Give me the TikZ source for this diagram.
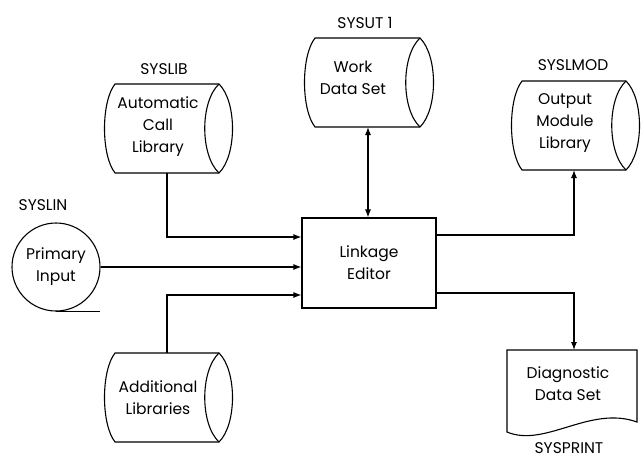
\documentclass[tikz,border=0pt]{standalone}
\usepackage{fontspec}
\setmainfont{Poppins}
\usetikzlibrary{arrows.meta}
\newcommand{\dcyl}[4]{%
  \draw ({#1},{#3}) -- ({#2},{#3})
    .. controls ({#2+18},{#3+0.2*(#4-#3)}) and ({#2+18},{#4-0.2*(#4-#3)}) .. ({#2},{#4})
    -- ({#1},{#4})
    .. controls ({#1-14},{#4-0.2*(#4-#3)}) and ({#1-14},{#3+0.2*(#4-#3)}) .. cycle;
  \draw ({#2},{#3}) .. controls ({#2-19},{#3+0.2*(#4-#3)}) and ({#2-19},{#4-0.2*(#4-#3)}) .. ({#2},{#4});
}
\begin{document}
\begin{tikzpicture}[x=1pt,y=-1pt, line width=1.1pt,
  lbl/.style={font=\fontsize{15.5}{22}\selectfont, align=center, inner sep=0pt},
  ltip/.tip={Latex[length=8pt,width=6pt]},
  arr/.style={-ltip},
  ]
\useasboundingbox (0,0) rectangle (642,464);

% Linkage editor
\node[draw, minimum width=134pt, minimum height=90pt, lbl] (editor) at (369,263) {Linkage\\Editor};

% SYSLIB
\dcyl{115}{219}{84}{173}
\node[lbl] (syslib) at (164,69) {SYSLIB};
\node[lbl] (autolib) at (158,127) {Automatic\\Call\\Library};
\coordinate (libbot) at (167,173);

% SYSUT1
\dcyl{315}{420}{38}{127}
\node[lbl] (sysut) at (365,23) {SYSUT 1};
\node[lbl] (work) at (353,78) {Work\\Data Set};
\coordinate (utbot) at (368,127);

% SYSLMOD
\dcyl{522}{626}{81}{170}
\node[lbl] (syslmod) at (573,65) {SYSLMOD};
\node[lbl] (outlib) at (565,123) {Output\\Module\\Library};
\coordinate (modbot) at (574,170);

% SYSLIN
\node[lbl] (syslin) at (43,205) {SYSLIN};
\node[draw, circle, minimum size=88pt, lbl] (primary) at (56,267) {Primary\\Input};
\draw (primary.south) -- ++(44,0);

% Additional libraries
\dcyl{115}{219}{353}{442}
\node[lbl] (addlib) at (158,398) {Additional\\Libraries};
\coordinate (addtop) at (167,353);

% Diagnostic
\draw (507,350) -- (637,350) -- (637,422)
  .. controls (590,405) and (545,448) .. (507,432) -- cycle;
\coordinate (diagtop) at (574,350);
\node[lbl] (diag) at (568,384) {Diagnostic\\Data Set};
\node[lbl] (sysprint) at (569,448) {SYSPRINT};

% connectors
\draw[arr] (libbot) |- ([yshift=26pt]editor.west);
\draw[arr] (primary.east) -- (editor.west |- primary.east);
\draw[arr] (addtop) |- ([yshift=-32pt]editor.west);
\draw[ltip-ltip] (utbot) -- (editor.north -| utbot);
\draw[arr] ([yshift=28pt]editor.east) -| (modbot);
\draw[arr] ([yshift=-30pt]editor.east) -| (diagtop);
\end{tikzpicture}
\end{document}
